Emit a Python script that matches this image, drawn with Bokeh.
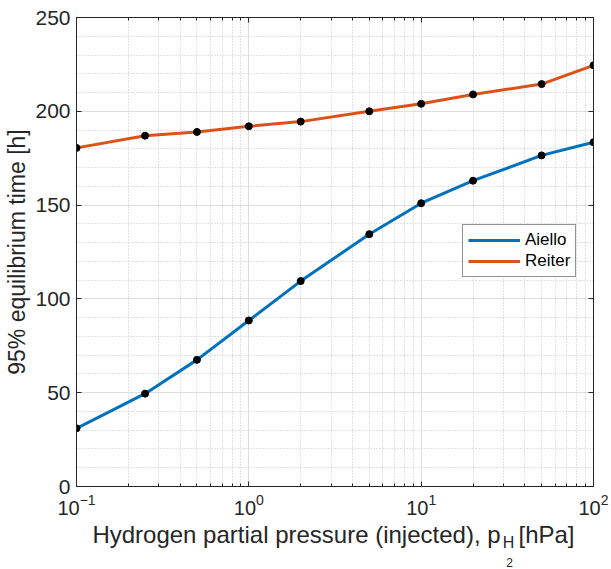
from bokeh.plotting import figure
from bokeh.models import (LogAxis, LinearAxis, Range1d, LogTicker, SingleIntervalTicker,
                          FixedTicker, LinearScale, Legend, LegendItem)
from bokeh.embed import file_html
from bokeh.resources import INLINE

pressure = [0.1, 0.25, 0.5, 1, 2, 5, 10, 20, 50, 100]
aiello = [31, 49.5, 67.5, 88.5, 109.5, 134.5, 151, 163, 176.5, 183.5]
reiter = [180.5, 187, 189, 192, 194.5, 200, 204, 209, 214.5, 224.5]
series_names = ["Aiello", "Reiter"]
x_label_main = "Hydrogen partial pressure (injected), p"
x_label_sub = "H"
x_label_subsub = "2"
x_label_unit = "[hPa]"
y_label = "95% equilibrium time [h]"

FONT = "Liberation Sans"
AX = "#262626"
FW, FH = 517, 469

p = figure(x_axis_type="log", frame_width=FW, frame_height=FH,
           x_range=Range1d(0.1, 100), y_range=Range1d(0, 250),
           output_backend="svg", toolbar_location=None,
           min_border_left=76, min_border_top=17, min_border_right=18, min_border_bottom=0)
p.outline_line_color = AX
p.outline_line_width = 1

xt = LogTicker(num_minor_ticks=10, desired_num_ticks=4)
yt = SingleIntervalTicker(interval=50, num_minor_ticks=5)

xa = p.xaxis[0]
xa.ticker = xt
ya = p.yaxis[0]
ya.ticker = yt
for ax in (xa, ya):
    ax.axis_line_color = AX
    ax.major_tick_line_color = AX
    ax.minor_tick_line_color = AX
    ax.major_tick_in = 5
    ax.major_tick_out = 0
    ax.minor_tick_in = 3
    ax.minor_tick_out = 0
    ax.major_label_text_font = FONT
    ax.major_label_text_color = AX
ya.major_label_text_font_size = "21px"
xa.major_label_text_font_size = "20px"
ya.minor_tick_in = 0
ya.major_label_standoff = 6
xa.major_label_standoff = 7
ya.axis_label = y_label
ya.axis_label_text_font = FONT
ya.axis_label_text_font_style = "normal"
ya.axis_label_text_font_size = "23px"
ya.axis_label_text_color = AX
ya.axis_label_standoff = 2

top = LogAxis(ticker=xt, major_tick_in=5, major_tick_out=0, minor_tick_in=3, minor_tick_out=0,
              major_label_text_font_size="1px", major_label_text_alpha=0, axis_line_color=AX,
              major_tick_line_color=AX, minor_tick_line_color=AX, major_label_standoff=0)
right = LinearAxis(ticker=yt, major_tick_in=5, major_tick_out=0, minor_tick_in=0, minor_tick_out=0,
                   major_label_text_font_size="1px", major_label_text_alpha=0, axis_line_color=AX,
                   major_tick_line_color=AX, major_label_standoff=0)
p.add_layout(top, "above")
p.add_layout(right, "right")

# x-axis title built from label-only axes on a pixel range (for the nested subscript)
p.extra_x_ranges = {"px": Range1d(0, FW)}
p.extra_x_scales = {"px": LinearScale()}

def text_axis(ticks, texts, size, standoff):
    return LinearAxis(x_range_name="px", ticker=FixedTicker(ticks=ticks, minor_ticks=[]),
                      major_label_overrides=dict(zip(ticks, texts)),
                      axis_line_color=None, major_tick_line_color=None, minor_tick_line_color=None,
                      major_tick_in=0, major_tick_out=0, minor_tick_in=0, minor_tick_out=0,
                      major_label_standoff=standoff, major_label_text_font=FONT,
                      major_label_text_font_size=size, major_label_text_color=AX)

p.add_layout(text_axis([220, 470], [x_label_main, x_label_unit], "24px", 3), "below")
p.add_layout(text_axis([432], [x_label_sub], "16px", -17), "below")
p.add_layout(text_axis([433], [x_label_subsub], "12px", 4), "below")

p.xgrid.ticker = xt
p.ygrid.ticker = yt
for g in (p.xgrid[0], p.ygrid[0]):
    g.grid_line_color = "#dedede"
    g.grid_line_width = 1
    g.minor_grid_line_color = "#c4c4c4"
    g.minor_grid_line_dash = "1 2"
    g.minor_grid_line_width = 1

r1 = p.line(pressure, aiello, line_color="#0072BD", line_width=3)
r2 = p.line(pressure, reiter, line_color="#D95319", line_width=3)
p.scatter(pressure, aiello, size=7, color="black")
p.scatter(pressure, reiter, size=7, color="black")

legend = Legend(items=[LegendItem(label=series_names[0], renderers=[r1]),
                       LegendItem(label=series_names[1], renderers=[r2])],
                location=(386, 209), glyph_width=52, glyph_height=20, label_height=20,
                label_text_font=FONT, label_text_font_size="17px", label_text_color="black",
                label_standoff=5, spacing=1, padding=5, margin=0,
                border_line_color=AX, border_line_width=1, background_fill_alpha=1)
p.add_layout(legend, "center")

open("out.html", "w").write(file_html(p, INLINE))
